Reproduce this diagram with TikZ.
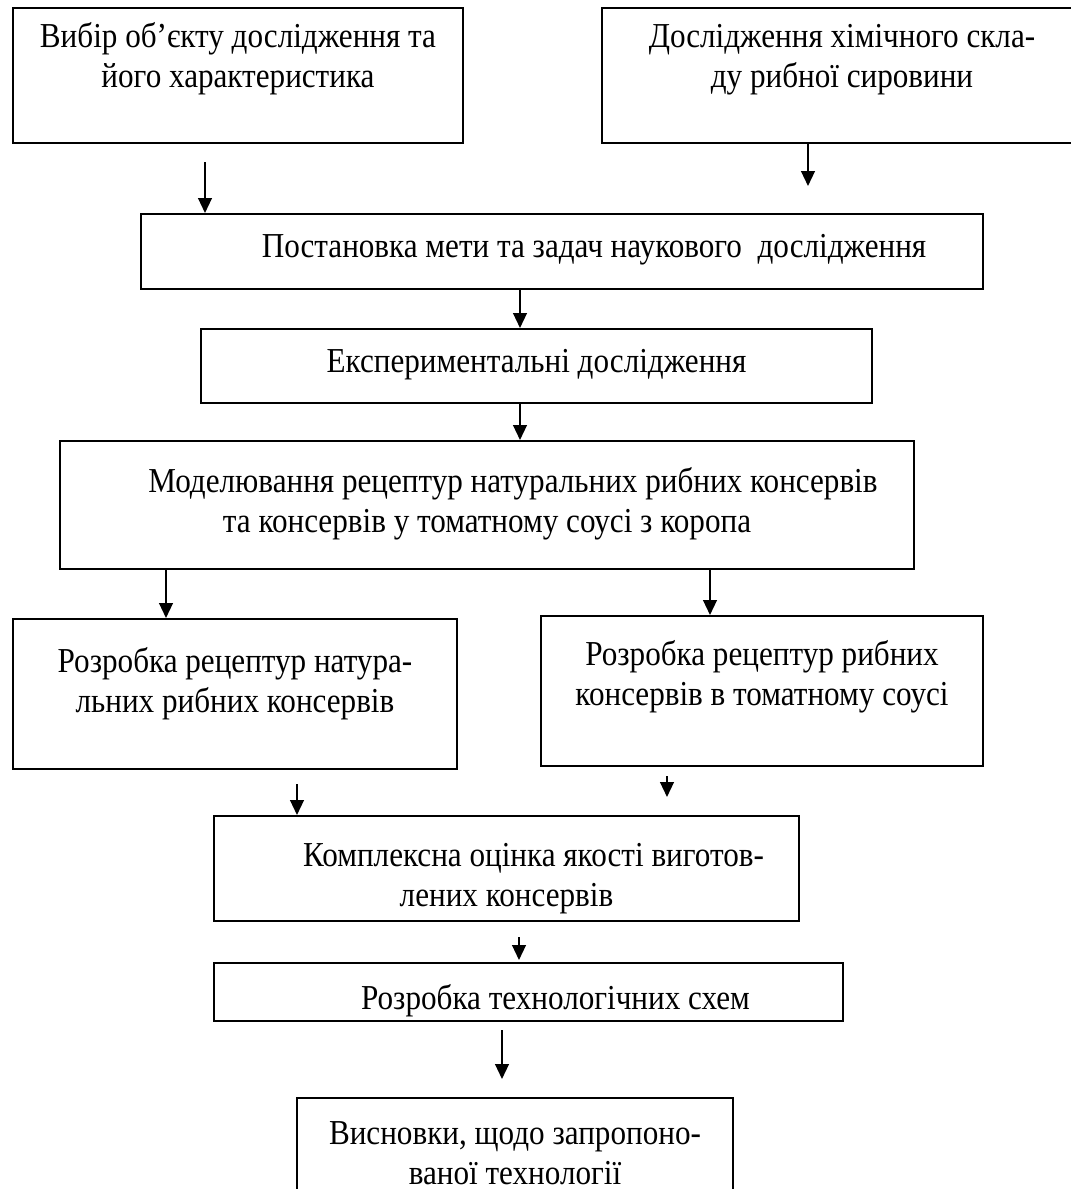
\documentclass[tikz,border=0pt]{standalone}
\usepackage{fontspec}
\setmainfont{Liberation Serif}[FakeStretch=0.89]
\usetikzlibrary{arrows.meta}
\newdimen\PX \PX=0.4pt
% box text: width, height, first baseline, text
\newcommand{\Stage}[4]{\parbox[t][#2\PX][t]{#1\PX}{\centering\rule{0pt}{#3\PX}#4}}

\begin{document}
\begin{tikzpicture}[x=0.4pt, y=-0.4pt,
  stage/.style={draw, line width=0.8pt, inner sep=0pt, anchor=north west},
  arr/.style={line width=0.8pt, -{Triangle[length=6pt,width=5.5pt]}}]

  \fontsize{14}{16}\selectfont

  \useasboundingbox (0,0) rectangle (1071,1189);

  \node[stage] (obj) at (12,7) {\Stage{450}{135}{39}{Вибір об’єкту дослідження та\\його характеристика}};
  \node[stage] (chem) at (601,7) {\Stage{480}{135}{39}{Дослідження хімічного скла-\\ду рибної сировини}};
  \node[stage] (goal) at (140,213) {\Stage{842}{75}{43}{\hspace*{64\PX}Постановка мети та задач наукового~ дослідження}};
  \node[stage] (exp) at (200,328) {\Stage{671}{74}{43}{Експериментальні дослідження}};
  \node[stage] (model) at (59,440) {\Stage{854}{128}{51}{\hspace*{52\PX}Моделювання рецептур натуральних рибних консервів\\та консервів у томатному соусі з коропа}};
  \node[stage] (natur) at (12,618) {\Stage{444}{150}{53}{Розробка рецептур натура-\\льних рибних консервів}};
  \node[stage] (tomato) at (540,615) {\Stage{442}{150}{49}{Розробка рецептур рибних\\консервів в томатному соусі}};
  \node[stage] (quality) at (213,815) {\Stage{585}{105}{50}{\hspace*{54\PX}Комплексна оцінка якості виготов-\\лених консервів}};
  \node[stage] (schemes) at (213,962) {\Stage{629}{58}{46}{\hspace*{54\PX}Розробка технологічних схем}};
  \node[stage] (concl) at (296,1097) {\Stage{436}{110}{46}{Висновки, щодо запропоно-\\ваної технології}};

  \draw[arr, shorten <=7.2pt] (obj.south -| 205,0) -- (goal.north -| 205,0); % obj->goal
  \draw[arr, shorten >=10.8pt] (chem.south -| 808,0) -- (goal.north -| 808,0); % chem->goal
  \draw[arr] (goal.south -| 520,0) -- (exp.north -| 520,0); % goal->exp
  \draw[arr] (exp.south -| 520,0) -- (model.north -| 520,0); % exp->model
  \draw[arr] (model.south -| 166,0) -- (natur.north -| 166,0); % model->natur
  \draw[arr] (model.south -| 710,0) -- (tomato.north -| 710,0); % model->tomato
  \draw[arr, shorten <=5.6pt] (natur.south -| 297,0) -- (quality.north -| 297,0); % natur->quality
  \draw[arr, shorten <=3.6pt, shorten >=7.2pt] (tomato.south -| 667,0) -- (quality.north -| 667,0); % tomato->quality
  \draw[arr, shorten <=6pt, shorten >=0.8pt] (quality.south -| 519,0) -- (schemes.north -| 519,0); % quality->schemes
  \draw[arr, shorten <=3.2pt, shorten >=7.2pt] (schemes.south -| 502,0) -- (concl.north -| 502,0); % schemes->concl

\end{tikzpicture}
\end{document}
